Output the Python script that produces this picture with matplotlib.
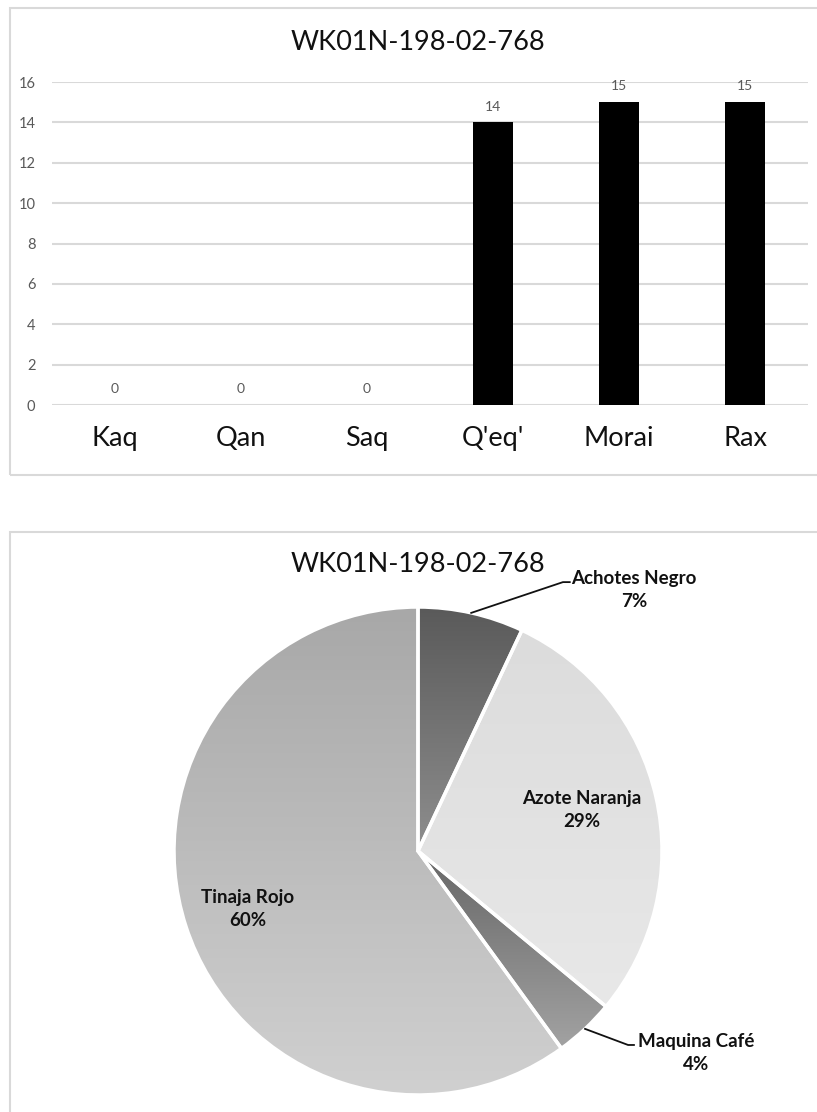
import numpy as np
import matplotlib
matplotlib.use("Agg")
import matplotlib.pyplot as plt
from matplotlib.patches import Rectangle

plt.rcParams['font.family'] = ['Lato', 'DejaVu Sans']

# data
title = "WK01N-198-02-768"
categories = ["Kaq", "Qan", "Saq", "Q'eq'", "Morai", "Rax"]
counts = [0, 0, 0, 14, 15, 15]

pie_labels = ["Achotes Negro", "Azote Naranja", "Maquina Café", "Tinaja Rojo"]
pie_pct = [7, 29, 4, 60]

W, H = 817, 1112
fig = plt.figure(figsize=(W / 100, H / 100), dpi=100)


def fx(x):
    return x / W


def fy(y):
    return 1 - y / H


# panel borders (right and bottom edges run off the picture)
for top, bottom in [(8, 475), (532, 1160)]:
    fig.patches.append(Rectangle((fx(10), fy(bottom)), fx(860) - fx(10), fy(top) - fy(bottom),
                                 transform=fig.transFigure, fill=False,
                                 edgecolor='#d9d9d9', linewidth=1.5))

# ---- bar chart ----
ax = fig.add_axes([fx(52), fy(405), fx(808) - fx(52), fy(82) - fy(405)])
x = np.arange(len(categories))
ax.bar(x, counts, width=0.32, color='black', zorder=3)
ax.set_xlim(-0.5, len(categories) - 0.5)
ax.set_ylim(0, 16)
ax.set_yticks(range(0, 17, 2))
ax.yaxis.grid(True, color='#d9d9d9', linewidth=1.5, zorder=0)
ax.set_axisbelow(True)
for s in ax.spines.values():
    s.set_visible(False)
ax.tick_params(axis='both', length=0)
ax.tick_params(axis='y', labelsize=10.5, labelcolor='#595959', pad=12)
ax.set_xticks(x)
ax.set_xticklabels(categories, fontsize=19.5, color='#111111')
ax.tick_params(axis='x', pad=15)
for xi, v in zip(x, counts):
    ax.annotate(str(v), (xi, v), xytext=(0, 7), textcoords='offset points',
                ha='center', va='bottom', fontsize=10, color='#595959')
fig.text(fx(418), fy(42), title, ha='center', va='center', fontsize=19.5, color='#111111')

# ---- pie chart ----
R = 244
cx, cy = 418, 851
half = 320
pax = fig.add_axes([fx(cx - half), fy(cy + half), fx(2 * half), (2 * half) / H])
pax.axis('off')

wedges, _ = pax.pie(pie_pct, startangle=90, counterclock=False, radius=1,
                    wedgeprops=dict(edgecolor='white', linewidth=2.5))

# vertical gradient fill for each slice
grad = [('#5a5a5a', '#8e8e8e'), ('#dcdcdc', '#e8e8e8'),
        ('#666666', '#a2a2a2'), ('#a8a8a8', '#d0d0d0')]
for w, (c1, c2) in zip(wedges, grad):
    w.set_facecolor('none')
    w.set_zorder(3)
    bb = w.get_path().get_extents(w.get_patch_transform())
    c1 = np.array(matplotlib.colors.to_rgb(c1))
    c2 = np.array(matplotlib.colors.to_rgb(c2))
    t = np.linspace(0, 1, 100)[:, None]
    img = (c1 * (1 - t) + c2 * t)[:, None, :]
    im = pax.imshow(img, extent=(bb.x0, bb.x1, bb.y0, bb.y1), origin='upper',
                    aspect='auto', zorder=2)
    im.set_clip_path(w)
pax.set_xlim(-half / R, half / R)
pax.set_ylim(-half / R, half / R)

pos = {
    "Achotes Negro": (0.885, 1.07),
    "Azote Naranja": (0.672, 0.168),
    "Maquina Café": (1.14, -0.828),
    "Tinaja Rojo": (-0.697, -0.238),
}
leaders = {
    "Achotes Negro": [(0.594, 1.102), (0.622, 1.102)],
    "Maquina Café": [(0.861, -0.795), (0.885, -0.795)],
}
for w, lab, p in zip(wedges, pie_labels, pie_pct):
    tx, ty = pos[lab]
    pax.text(tx, ty, f"{lab}\n{p}%", ha='center', va='center', fontsize=13.5,
             fontweight='bold', color='#111111', linespacing=1.45, zorder=5)
    if lab in leaders:
        mid = np.deg2rad((w.theta1 + w.theta2) / 2)
        pts = [(np.cos(mid), np.sin(mid))] + leaders[lab]
        px, py = zip(*pts)
        pax.plot(px, py, color='#111111', linewidth=1.3, zorder=4, clip_on=False)

fig.text(fx(418), fy(565), title, ha='center', va='center', fontsize=19.5, color='#111111')

fig.savefig("out.png", dpi=100)
